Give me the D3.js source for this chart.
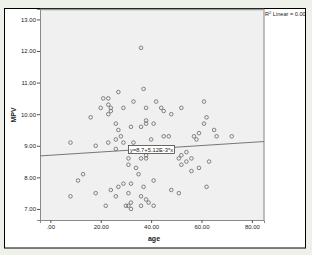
<!DOCTYPE html>
<html>
<head>
<meta charset="utf-8">
<script src="https://cdn.jsdelivr.net/npm/d3@7"></script>
<style>
  body { margin: 0; background: #eef0ea; }
  text { font-family: "Liberation Sans", Arial, sans-serif; fill: #222; }
</style>
</head>
<body>
<div id="chart"></div>
<script>
// age vs MPV
var age = [36, 37, 27, 21, 23, 23, 20, 24, 24, 23, 16, 33, 42, 29, 38, 44, 45, 48, 52, 61,
           62, 61, 65, 26, 27, 32, 36, 38, 38, 41, 28, 26, 23, 29, 33, 40, 8, 18, 26, 45,
           47, 57, 58, 59, 66, 72, 31, 31, 36, 38, 38, 34, 35, 51, 52, 54, 52, 54, 56, 56,
           59, 63, 13, 11, 41, 29, 32, 37, 18, 24, 27, 31, 26, 8, 36, 38, 39, 22, 30, 31,
           32, 32, 36, 41, 48, 51, 62];
var mpv = [12.1, 10.8, 10.7, 10.5, 10.5, 10.3, 10.2, 10.2, 10.1, 10.0, 9.9, 10.4, 10.4, 10.2, 10.2, 10.2, 10.1, 10.0, 10.2, 10.4,
           9.9, 9.7, 9.5, 9.7, 9.5, 9.6, 9.6, 9.8, 9.7, 9.7, 9.3, 9.2, 9.1, 9.1, 9.1, 9.2, 9.1, 9.0, 8.9, 9.3,
           9.3, 9.3, 9.2, 9.4, 9.3, 9.3, 8.6, 8.4, 8.6, 8.6, 8.7, 8.3, 8.1, 8.6, 8.7, 8.8, 8.4, 8.5, 8.6, 8.2,
           8.3, 8.5, 8.1, 7.9, 7.9, 7.8, 7.8, 7.7, 7.5, 7.6, 7.7, 7.5, 7.4, 7.4, 7.4, 7.3, 7.2, 7.1, 7.1, 7.1,
           7.2, 7.0, 7.1, 7.1, 7.6, 7.5, 7.7];
var xTicks = [0, 20, 40, 60, 80];
var yTicks = [7, 8, 9, 10, 11, 12, 13];
var fitA = 8.7, fitB = 0.00512;

var W = 312, H = 255;
var svg = d3.select("#chart").append("svg")
    .attr("width", W).attr("height", H);

// outer frame
svg.append("rect").attr("x", 4.5).attr("y", 8.5).attr("width", 301).attr("height", 239.5)
  .attr("fill", "#fff").attr("stroke", "#000").attr("stroke-width", 1);

svg.append("clipPath").attr("id", "frameClip")
  .append("rect").attr("x", 5).attr("y", 9).attr("width", 300).attr("height", 238);

var L = 40, R = 264, T = 9, B = 220;
var x = d3.scaleLinear().domain([-4.1, 84.8]).range([L, R]);
var y = d3.scaleLinear().domain([6.65, 13.33]).range([B, T]);

// plot area
svg.append("rect").attr("x", L).attr("y", T).attr("width", R - L).attr("height", B - T)
  .attr("fill", "#f0f0f0");
svg.append("line").attr("x1", L).attr("x2", R).attr("y1", T + 0.5).attr("y2", T + 0.5)
  .attr("stroke", "#999").attr("stroke-width", 1.5);
svg.append("line").attr("x1", R).attr("x2", R).attr("y1", T).attr("y2", B)
  .attr("stroke", "#aaa").attr("stroke-width", 1.5);

var xAxis = svg.append("g").attr("transform", "translate(0," + B + ")")
  .call(d3.axisBottom(x).tickValues(xTicks).tickSize(3).tickPadding(2)
    .tickFormat(function(d) { return d === 0 ? ".00" : d3.format(".2f")(d); }));
var yAxis = svg.append("g").attr("transform", "translate(" + L + ",0)")
  .call(d3.axisLeft(y).tickValues(yTicks).tickSize(3).tickPadding(1)
    .tickFormat(d3.format(".2f")));
[xAxis, yAxis].forEach(function(g) {
  g.selectAll(".domain").attr("stroke", "#888");
  g.selectAll(".tick line").attr("stroke", "#555");
  g.selectAll(".tick text").attr("font-size", "6px").attr("fill", "#444")
    .attr("font-family", "'Liberation Sans', Arial, sans-serif");
});

// fit line
svg.append("line")
  .attr("x1", x(-4.1)).attr("y1", y(fitA + fitB * -4.1))
  .attr("x2", x(84.8)).attr("y2", y(fitA + fitB * 84.8))
  .attr("stroke", "#777").attr("stroke-width", 1);

// points
svg.append("g").selectAll("circle").data(age).enter().append("circle")
  .attr("cx", function(d) { return x(d); })
  .attr("cy", function(d, i) { return y(mpv[i]); })
  .attr("r", 1.8)
  .attr("fill", "none").attr("stroke", "#666").attr("stroke-width", 0.8);

// equation label
svg.append("rect").attr("x", 128.5).attr("y", 145.5).attr("width", 46).attr("height", 8)
  .attr("fill", "#fff").attr("stroke", "#444").attr("stroke-width", 0.8);
svg.append("text").attr("x", 130).attr("y", 151.8).attr("font-size", "5.8px")
  .text("y=8.7+5.12E-3*x");

// axis titles
svg.append("text").attr("x", 154).attr("y", 240.5).attr("text-anchor", "middle")
  .attr("font-size", "7px").attr("font-weight", "bold").text("age");
svg.append("text").attr("transform", "translate(16,115) rotate(-90)")
  .attr("text-anchor", "middle").attr("font-size", "7px").attr("font-weight", "bold").text("MPV");

// R2 note
var r2 = svg.append("text").attr("clip-path", "url(#frameClip)")
  .attr("x", 265).attr("y", 15.5).attr("font-size", "5.6px");
r2.append("tspan").text("R");
r2.append("tspan").attr("dy", -2).attr("font-size", "4px").text("2");
r2.append("tspan").attr("dy", 2).text(" Linear = 0.005");
</script>
</body>
</html>
